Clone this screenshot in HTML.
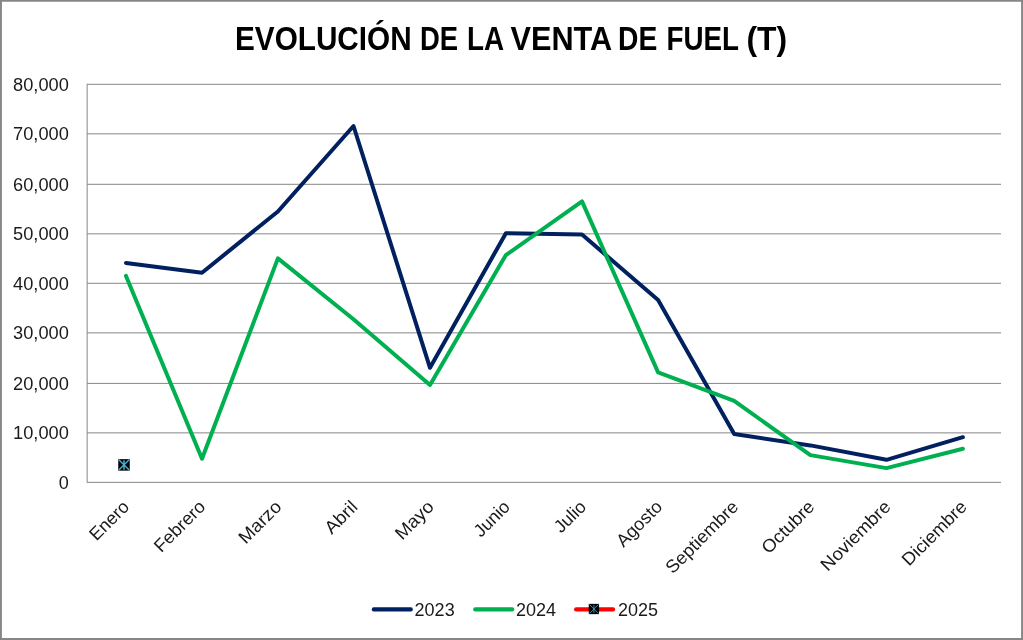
<!DOCTYPE html>
<html lang="es"><head><meta charset="utf-8"><title>Evolución de la venta de fuel (T)</title>
<style>
html,body{margin:0;padding:0;background:#fff;}
body{width:1023px;height:640px;overflow:hidden;}
svg{display:block;}
text{font-family:"Liberation Sans",sans-serif;fill:#1a1a1a;}
.t{font-weight:bold;font-size:33.2px;fill:#000;}
.a{font-size:18px;}
</style></head><body>
<svg width="1023" height="640" viewBox="0 0 1023 640">
<rect x="0" y="0" width="1023" height="640" fill="#fff"/>
<path d="M0 0H1023V640H0ZM1.9 1.75V638.05H1021.1V1.75Z" fill="#868686" fill-rule="evenodd"/>

<g stroke="#868686" stroke-width="1" fill="none">
<line x1="87.15" y1="84.30" x2="1001.00" y2="84.30"/>
<line x1="87.15" y1="133.83" x2="1001.00" y2="133.83"/>
<line x1="87.15" y1="184.30" x2="1001.00" y2="184.30"/>
<line x1="87.15" y1="233.83" x2="1001.00" y2="233.83"/>
<line x1="87.15" y1="283.30" x2="1001.00" y2="283.30"/>
<line x1="87.15" y1="332.88" x2="1001.00" y2="332.88"/>
<line x1="87.15" y1="383.40" x2="1001.00" y2="383.40"/>
<line x1="87.15" y1="432.88" x2="1001.00" y2="432.88"/>
<line x1="87.15" y1="482.35" x2="1001.00" y2="482.35"/>
<line x1="87.15" y1="83.80" x2="87.15" y2="482.85"/>
</g>
<text class="a" x="68.8" y="90.60" text-anchor="end" textLength="55.7" lengthAdjust="spacingAndGlyphs">80,000</text>
<text class="a" x="68.8" y="140.13" text-anchor="end" textLength="55.7" lengthAdjust="spacingAndGlyphs">70,000</text>
<text class="a" x="68.8" y="190.60" text-anchor="end" textLength="55.7" lengthAdjust="spacingAndGlyphs">60,000</text>
<text class="a" x="68.8" y="240.13" text-anchor="end" textLength="55.7" lengthAdjust="spacingAndGlyphs">50,000</text>
<text class="a" x="68.8" y="289.60" text-anchor="end" textLength="55.7" lengthAdjust="spacingAndGlyphs">40,000</text>
<text class="a" x="68.8" y="339.18" text-anchor="end" textLength="55.7" lengthAdjust="spacingAndGlyphs">30,000</text>
<text class="a" x="68.8" y="389.70" text-anchor="end" textLength="55.7" lengthAdjust="spacingAndGlyphs">20,000</text>
<text class="a" x="68.8" y="439.18" text-anchor="end" textLength="55.7" lengthAdjust="spacingAndGlyphs">10,000</text>
<text class="a" x="68.8" y="488.65" text-anchor="end">0</text>
<text class="t" y="49.6"><tspan x="235.0" textLength="176.6" lengthAdjust="spacingAndGlyphs">EVOLUCIÓN</tspan> <tspan x="420.0" textLength="38.1" lengthAdjust="spacingAndGlyphs">DE</tspan> <tspan x="467.0" textLength="36.1" lengthAdjust="spacingAndGlyphs">LA</tspan> <tspan x="510.5" textLength="100.5" lengthAdjust="spacingAndGlyphs">VENTA</tspan> <tspan x="618.0" textLength="39.2" lengthAdjust="spacingAndGlyphs">DE</tspan> <tspan x="666.5" textLength="72.0" lengthAdjust="spacingAndGlyphs">FUEL</tspan> <tspan x="746.5" textLength="40.7" lengthAdjust="spacingAndGlyphs">(T)</tspan></text>
<polyline points="126.0,262.9 202.0,272.7 277.9,211.5 353.5,126.0 430.0,367.8 505.9,233.2 582.0,234.5 658.1,300.0 734.2,434.0 810.4,445.4 886.5,459.8 962.9,437.2" fill="none" stroke="#002060" stroke-width="4" stroke-linecap="round" stroke-linejoin="round"/>
<polyline points="126.0,275.9 202.0,458.7 277.9,258.4 353.5,319.3 430.0,385.0 505.9,255.1 582.0,201.4 658.1,372.4 734.2,400.9 810.4,455.1 886.5,468.1 962.9,448.8" fill="none" stroke="#00b050" stroke-width="4" stroke-linecap="round" stroke-linejoin="round"/>
<g transform="translate(124.0,464.9)"><rect x="-5.75" y="-5.75" width="11.50" height="11.50" fill="#000"/><path d="M-5.15 -5.15L5.15 5.15M-5.15 5.15L5.15 -5.15M0 -4.75L0 4.75" stroke="#43aecf" stroke-width="1.5" fill="none"/></g>
<text class="a" transform="translate(130.3,507.9) rotate(-45)" text-anchor="end" textLength="47.7" lengthAdjust="spacingAndGlyphs">Enero</text>
<text class="a" transform="translate(206.5,507.9) rotate(-45)" text-anchor="end" textLength="64.1" lengthAdjust="spacingAndGlyphs">Febrero</text>
<text class="a" transform="translate(282.6,507.9) rotate(-45)" text-anchor="end" textLength="52.1" lengthAdjust="spacingAndGlyphs">Marzo</text>
<text class="a" transform="translate(358.8,507.9) rotate(-45)" text-anchor="end" textLength="38.2" lengthAdjust="spacingAndGlyphs">Abril</text>
<text class="a" transform="translate(434.9,507.9) rotate(-45)" text-anchor="end" textLength="46.3" lengthAdjust="spacingAndGlyphs">Mayo</text>
<text class="a" transform="translate(511.1,507.9) rotate(-45)" text-anchor="end" textLength="42.5" lengthAdjust="spacingAndGlyphs">Junio</text>
<text class="a" transform="translate(587.2,507.9) rotate(-45)" text-anchor="end" textLength="36.6" lengthAdjust="spacingAndGlyphs">Julio</text>
<text class="a" transform="translate(663.4,507.9) rotate(-45)" text-anchor="end" textLength="56.6" lengthAdjust="spacingAndGlyphs">Agosto</text>
<text class="a" transform="translate(739.5,507.9) rotate(-45)" text-anchor="end" textLength="94.3" lengthAdjust="spacingAndGlyphs">Septiembre</text>
<text class="a" transform="translate(815.7,507.9) rotate(-45)" text-anchor="end" textLength="66.3" lengthAdjust="spacingAndGlyphs">Octubre</text>
<text class="a" transform="translate(891.8,507.9) rotate(-45)" text-anchor="end" textLength="90.5" lengthAdjust="spacingAndGlyphs">Noviembre</text>
<text class="a" transform="translate(968.0,507.9) rotate(-45)" text-anchor="end" textLength="83.3" lengthAdjust="spacingAndGlyphs">Diciembre</text>
<line x1="373.8" y1="609.4" x2="410.8" y2="609.4" stroke="#002060" stroke-width="4.1" stroke-linecap="round"/><text class="a" x="414.6" y="615.6">2023</text>
<line x1="475.2" y1="609.4" x2="512.2" y2="609.4" stroke="#00b050" stroke-width="4.1" stroke-linecap="round"/><text class="a" x="516.0" y="615.6">2024</text>
<line x1="576.1" y1="609.4" x2="613.1" y2="609.4" stroke="#ff0000" stroke-width="4.1" stroke-linecap="round"/><text class="a" x="618.0" y="615.6">2025</text>
<g transform="translate(593.9,609.0)"><rect x="-5.15" y="-5.15" width="10.30" height="10.30" fill="#000"/><path d="M-4.55 -4.55L4.55 4.55M-4.55 4.55L4.55 -4.55M0 -4.15L0 4.15" stroke="#43aecf" stroke-width="0.8" fill="none"/></g>
</svg></body></html>
